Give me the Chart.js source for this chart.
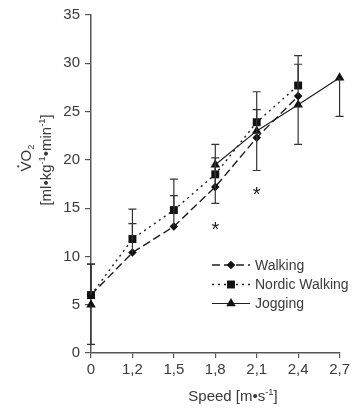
<!DOCTYPE html>
<html>
<head>
<meta charset="utf-8">
<script src="https://cdn.jsdelivr.net/npm/chart.js@4/dist/chart.umd.min.js"></script>
<style>
html,body{margin:0;padding:0;background:#fff;}
#wrap{position:relative;width:353px;height:410px;}
</style>
</head>
<body>
<div id="wrap"><canvas id="c" width="353" height="410"></canvas></div>
<script>
// ---- data ----
const categories = ['0', '1,2', '1,5', '1,8', '2,1', '2,4', '2,7'];
const walking = [6.0, 10.4, 13.1, 17.2, 22.3, 26.6, null];
const nordicWalking = [6.0, 11.8, 14.8, 18.5, 23.9, 27.7, null];
const jogging = [5.0, null, null, 19.5, 23.0, 25.7, 28.5];
// error bars: walking & nordic drawn upward, jogging downward
const walkingErrUp = [3.2, 3.0, 3.2, 3.0, 2.9, 3.3, null];
const nordicErrUp = [3.2, 3.1, 3.2, 3.1, 3.15, 3.1, null];
const joggingErrDown = [4.1, null, null, 4.0, 4.1, 4.1, 4.0];
// significance asterisks: [category index, value]
const asteriskCats = [3, 4];
const asteriskVals = [13.1, 16.7];
const yTicks = [0, 5, 10, 15, 20, 25, 30, 35];
const legendLabels = ['Walking', 'Nordic Walking', 'Jogging'];

const FONT = '"Liberation Sans", Arial, sans-serif';
const TXT = '#3a3a3a';
const AX = '#555';

function markerPath(ctx, style, r, x, y) {
  ctx.beginPath();
  if (style === 'rectRot') {
    ctx.moveTo(x, y - r); ctx.lineTo(x + r, y); ctx.lineTo(x, y + r); ctx.lineTo(x - r, y); ctx.closePath();
  } else if (style === 'rect') {
    const s = r * Math.SQRT1_2;
    ctx.rect(x - s, y - s, 2 * s, 2 * s);
  } else if (style === 'triangle') {
    const h = r * 0.866;
    ctx.moveTo(x, y - r); ctx.lineTo(x + h, y + r * 0.5); ctx.lineTo(x - h, y + r * 0.5); ctx.closePath();
  }
}

function drawRich(ctx, segs, size, cx, cy) {
  const parts = segs.map(s => {
    const fs = (s.sup || s.sub) ? size * 0.62 : size;
    ctx.font = fs + 'px ' + FONT;
    return {s, fs, w: ctx.measureText(s.t).width};
  });
  const total = parts.reduce((a, p) => a + p.w, 0);
  let x = cx - total / 2;
  ctx.textBaseline = 'alphabetic';
  ctx.textAlign = 'left';
  const base = cy + size * 0.35;
  parts.forEach(p => {
    ctx.font = p.fs + 'px ' + FONT;
    let y = base;
    if (p.s.sup) y = base - size * 0.42;
    if (p.s.sub) y = base + size * 0.2;
    ctx.fillText(p.s.t, x, y);
    if (p.s.dot) {
      ctx.beginPath();
      ctx.arc(x + p.w / 2, base - size * 0.86, size * 0.07, 0, Math.PI * 2);
      ctx.fill();
    }
    x += p.w;
  });
}

const extras = {
  id: 'extras',
  afterDatasetsDraw(chart) {
    const ctx = chart.ctx;
    const xs = chart.scales.x, ys = chart.scales.y;
    ctx.save();
    ctx.strokeStyle = '#333';
    ctx.lineWidth = 1.2;
    const cap = 4;
    function bar(i, v, e, dir) {
      if (v == null || e == null) return;
      const x = xs.getPixelForValue(i);
      const y0 = ys.getPixelForValue(v);
      const y1 = ys.getPixelForValue(v + dir * e);
      ctx.beginPath();
      ctx.moveTo(x, y0); ctx.lineTo(x, y1);
      ctx.moveTo(x - cap, y1); ctx.lineTo(x + cap, y1);
      ctx.stroke();
    }
    for (let i = 0; i < categories.length; i++) {
      bar(i, walking[i], walkingErrUp[i], 1);
      bar(i, nordicWalking[i], nordicErrUp[i], 1);
      bar(i, jogging[i], joggingErrDown[i], -1);
    }
    // asterisks
    ctx.fillStyle = '#222';
    ctx.font = '20px ' + FONT;
    ctx.textAlign = 'center';
    ctx.textBaseline = 'middle';
    asteriskCats.forEach((c, k) => {
      ctx.fillText('*', xs.getPixelForValue(c), ys.getPixelForValue(asteriskVals[k]) + 4);
    });
    ctx.restore();
  },
  afterDraw(chart) {
    const ctx = chart.ctx;
    const ds = chart.data.datasets;
    ctx.save();
    // legend
    const lx0 = 212, lx1 = 250, mx = 231, tx = 255;
    const rows = [265, 284.5, 303.5];
    ds.forEach((d, k) => {
      const y = rows[k];
      ctx.strokeStyle = d.borderColor;
      ctx.lineWidth = d.borderWidth;
      ctx.setLineDash(d.borderDash || []);
      ctx.beginPath();
      ctx.moveTo(lx0, y); ctx.lineTo(lx1, y);
      ctx.stroke();
      ctx.setLineDash([]);
      ctx.fillStyle = d.pointBackgroundColor;
      markerPath(ctx, d.pointStyle, d.pointRadius, mx, y);
      ctx.fill();
      ctx.fillStyle = TXT;
      ctx.font = '14px ' + FONT;
      ctx.textAlign = 'left';
      ctx.textBaseline = 'middle';
      ctx.fillText(legendLabels[k], tx, y + 1);
    });
    // axis titles
    ctx.fillStyle = TXT;
    ctx.save();
    ctx.translate(26, 158);
    ctx.rotate(-Math.PI / 2);
    drawRich(ctx, [{t: 'V', dot: true}, {t: 'O'}, {t: '2', sub: true}], 15, 0, 0);
    ctx.restore();
    ctx.save();
    ctx.translate(46, 160);
    ctx.rotate(-Math.PI / 2);
    drawRich(ctx, [{t: '[ml•kg'}, {t: '-1', sup: true}, {t: '•min'}, {t: '-1', sup: true}, {t: ']'}], 15, 0, 0);
    ctx.restore();
    drawRich(ctx, [{t: 'Speed [m•s'}, {t: '-1', sup: true}, {t: ']'}], 15, 233, 396);
    ctx.restore();
  }
};

const lineCol = '#1e1e1e';
new Chart(document.getElementById('c'), {
  type: 'line',
  data: {
    labels: categories,
    datasets: [
      {label: legendLabels[0], data: walking, borderColor: lineCol, borderWidth: 1.4, borderDash: [8, 4],
       pointStyle: 'rectRot', pointRadius: 4.3, pointBackgroundColor: '#111', pointBorderWidth: 0, clip: false, spanGaps: false},
      {label: legendLabels[1], data: nordicWalking, borderColor: lineCol, borderWidth: 1.4, borderDash: [2, 4],
       pointStyle: 'rect', pointRadius: 5.6, pointBackgroundColor: '#111', pointBorderWidth: 0, clip: false, spanGaps: false},
      {label: legendLabels[2], data: jogging, borderColor: lineCol, borderWidth: 1.2,
       pointStyle: 'triangle', pointRadius: 5.5, pointBackgroundColor: '#111', pointBorderWidth: 0, clip: false, spanGaps: false}
    ]
  },
  options: {
    responsive: false,
    animation: false,
    events: [],
    layout: {padding: {left: 0, right: 12, top: 15, bottom: 0}},
    plugins: {legend: {display: false}, tooltip: {enabled: false}},
    elements: {line: {tension: 0}},
    scales: {
      x: {
        type: 'category',
        offset: false,
        grid: {display: true, drawOnChartArea: false, tickLength: 5, color: AX, lineWidth: 1.2},
        border: {display: true, color: AX, width: 1.5},
        ticks: {color: TXT, font: {size: 15, family: FONT}, padding: 3, maxRotation: 0, autoSkip: false},
        afterFit(s) { s.height = 57; }
      },
      y: {
        min: 0, max: 35,
        afterBuildTicks(s) { s.ticks = yTicks.map(v => ({value: v})); },
        grid: {display: true, drawOnChartArea: false, tickLength: 6, color: AX, lineWidth: 1.2},
        border: {display: true, color: AX, width: 1.5},
        ticks: {color: TXT, font: {size: 15, family: FONT}, padding: 5},
        afterFit(s) { s.width = 91; }
      }
    }
  },
  plugins: [extras]
});
</script>
</body>
</html>
